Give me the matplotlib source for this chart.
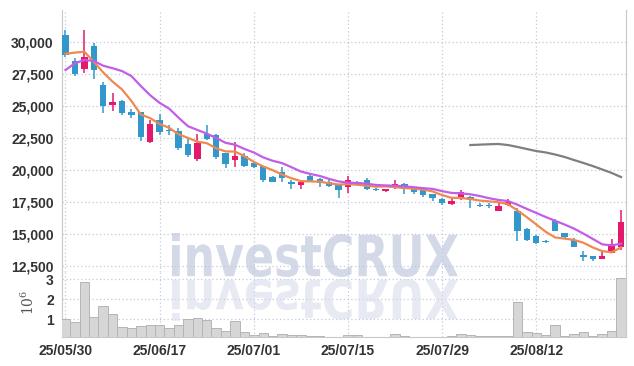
import matplotlib
matplotlib.use('Agg')
import numpy as np
import matplotlib.pyplot as plt
from matplotlib.font_manager import FontProperties
from matplotlib.textpath import TextPath
from matplotlib.patches import PathPatch
from matplotlib.transforms import Affine2D

# 일봉 데이터 (시가, 고가, 저가, 종가)
opens = [30550, 28500, 27900, 29700, 26650, 25100, 25400, 24550, 24550, 22150,
         23900, 23100, 23050, 22050, 20850, 22850, 22750, 21350, 20800, 21100,
         20550, 20300, 19450, 19850, 19100, 18850, 19550, 19300, 19050, 18850,
         18650, 19100, 19200, 18550, 18350, 18650, 18900, 18500, 18400, 18100,
         17750, 17350, 17800, 17900, 17250, 17300, 16800, 17250, 16800, 15400,
         14850, 14450, 16000, 15100, 14550, 13350, 13300, 13050, 13550, 13950]
highs = [30900, 28750, 30950, 29900, 26850, 26000, 25450, 24750, 24550, 23900,
         24350, 23550, 23250, 22550, 22850, 23500, 22800, 21350, 22150, 21350,
         20600, 20350, 19550, 20200, 19200, 19050, 19800, 19350, 19300, 18850,
         19500, 19150, 19350, 18600, 18500, 19250, 18950, 18550, 18400, 18150,
         17800, 17850, 18400, 17950, 17450, 17400, 17450, 17700, 17000, 15450,
         14900, 14500, 16150, 15100, 14700, 13650, 13300, 13750, 14600, 16900]
lows = [28800, 27350, 27550, 27100, 24450, 24600, 24300, 24050, 22300, 22100,
        22750, 22750, 21550, 21050, 20700, 22350, 20850, 20150, 20200, 20250,
        20150, 19050, 19050, 19100, 18550, 18550, 19050, 18650, 18650, 17850,
        18200, 18850, 18450, 18350, 18250, 18500, 18150, 18150, 17900, 17600,
        17300, 17300, 17650, 17000, 17100, 17050, 16800, 17150, 14450, 14450,
        14250, 14300, 15200, 14600, 14000, 12900, 12900, 13050, 13550, 13750]
closes = [28950, 27500, 28850, 27850, 25000, 25300, 24450, 24300, 22600, 23600,
          23000, 23050, 21750, 21150, 22100, 22400, 21050, 20500, 21100, 20350,
          20200, 19250, 19100, 19350, 18900, 19050, 19150, 18950, 18750, 18400,
          19200, 18900, 18550, 18400, 18500, 18900, 18550, 18300, 18050, 17800,
          17450, 17550, 18250, 17650, 17150, 17150, 17200, 17500, 15200, 14550,
          14300, 14350, 15250, 14750, 14000, 13200, 13050, 13300, 14250, 15900]

# 이동평균선
ma5 = [29080, 29170, 29240, 28460, 27625, 26902, 26297, 25391, 24338, 24052,
       23588, 23305, 22794, 22508, 22211, 22097, 21697, 21453, 21438, 21083,
       20635, 20275, 19988, 19639, 19353, 19130, 19110, 19084, 18968, 18863,
       18895, 18848, 18770, 18692, 18719, 18656, 18589, 18536, 18469, 18323,
       18038, 17828, 17813, 17734, 17609, 17547, 17484, 17334, 16839, 16313,
       15744, 15172, 14728, 14641, 14536, 14318, 13950, 13661, 13568, 13948]
ma10 = [27810, 28340, 28590, 28520, 28150, 27950, 27730, 27340, 26560, 25838,
        25245, 24801, 24092, 23423, 23131, 22842, 22501, 22124, 21973, 21647,
        21366, 20986, 20720, 20538, 20218, 19882, 19692, 19536, 19304, 19108,
        19012, 18979, 18927, 18830, 18791, 18775, 18718, 18653, 18581, 18521,
        18347, 18209, 18174, 18102, 17966, 17792, 17656, 17574, 17287, 16961,
        16645, 16328, 16031, 15740, 15425, 15031, 14614, 14195, 14104, 14242]
ma_long_start = 43
ma_long = [21950, 21980, 22010, 22030, 21950, 21800, 21640, 21480, 21370,
           21210, 21020, 20780, 20550, 20310, 20040, 19770, 19450]

# 거래량 (백만주)
volume = [1.0, 0.87, 2.85, 1.13, 1.67, 1.27, 0.6, 0.55, 0.65, 0.7,
          0.7, 0.55, 0.7, 1.02, 1.05, 0.97, 0.55, 0.42, 0.9, 0.37,
          0.2, 0.3, 0.15, 0.25, 0.2, 0.2, 0.15, 0.15, 0.12, 0.12,
          0.2, 0.18, 0.12, 0.1, 0.1, 0.27, 0.15, 0.12, 0.1, 0.12,
          0.12, 0.13, 0.27, 0.2, 0.15, 0.15, 0.13, 0.15, 1.85, 0.37,
          0.32, 0.2, 0.72, 0.15, 0.27, 0.37, 0.15, 0.27, 0.42, 3.05]

date_ticks = [0, 10, 20, 30, 40, 50]
date_labels = ['25/05/30', '25/06/17', '25/07/01', '25/07/15', '25/07/29', '25/08/12']
price_ticks = [12500, 15000, 17500, 20000, 22500, 25000, 27500, 30000]
vol_ticks = [1, 2, 3]

tick_kw = dict(fontfamily='Liberation Sans', fontweight='bold', fontsize=10, color='#333333')

plt.rcParams['mathtext.fontset'] = 'dejavuserif'

UP = '#e5196b'
DOWN = '#3298cb'
GRID = '#c3c8dc'
SPINE = '#c8c8c8'

W, H = 634, 366
fig = plt.figure(figsize=(W / 100, H / 100), dpi=100)
ax = fig.add_axes([62 / W, 1 - 272 / H, 564 / W, 262 / H])
axv = fig.add_axes([62 / W, 1 - 337 / H, 564 / W, 65 / H], sharex=ax)

x = np.arange(len(closes))
o = np.array(opens)
c = np.array(closes)
cols = [UP if cc > oo else DOWN for oo, cc in zip(o, c)]

# 캔들
ax.vlines(x, lows, highs, colors=cols, linewidth=1.1, zorder=3)
body_h = np.maximum(np.abs(c - o), 40)
ax.bar(x, body_h, bottom=np.minimum(o, c), width=0.68, color=cols, zorder=4)

# 이동평균선
ax.plot(x, ma5, color='#ef8950', linewidth=1.6, zorder=5)
ax.plot(x, ma10, color='#c35de8', linewidth=1.6, zorder=5)
ax.plot(np.arange(ma_long_start, ma_long_start + len(ma_long)), ma_long,
        color='#7f7f7f', linewidth=1.6, zorder=5)

ax.set_xlim(-0.37, 59.53)
ax.set_ylim(12030, 32500)
ax.set_yticks(price_ticks, [f'{p:,}' for p in price_ticks], **tick_kw)
ax.set_xticks(date_ticks)
ax.tick_params(length=0, labelbottom=False, pad=6)
ax.grid(True, color=GRID, linestyle=(0, (1, 2)), linewidth=0.9)
ax.set_axisbelow(True)
ax.spines['top'].set_visible(False)
for s in ['left', 'right', 'bottom']:
    ax.spines[s].set_color(SPINE)

# 거래량
axv.bar(x, volume, width=1.0, color='#d6d6d6', edgecolor='#b5b5b5', linewidth=0.7, zorder=3)
axv.set_ylim(0.1, 3.37)
axv.set_yticks(vol_ticks, [str(v) for v in vol_ticks], **tick_kw)
axv.set_xticks(date_ticks, date_labels, **tick_kw)
axv.tick_params(length=0, pad=6)
axv.tick_params(axis='x', pad=5)
axv.grid(True, color=GRID, linestyle=(0, (1, 2)), linewidth=0.9)
axv.set_axisbelow(True)
axv.spines['top'].set_visible(False)
for s in ['left', 'right', 'bottom']:
    axv.spines[s].set_color(SPINE)
axv.set_ylabel(r'$10^6$', fontsize=10, color='#555555')
axv.yaxis.set_label_coords(-0.045, 0.54)

# 워터마크
fp = FontProperties(family='DejaVu Sans', weight='bold')
tp = TextPath((0, 0), 'investCRUX', size=50, prop=fp)
bb = tp.get_extents()
sx = 286 / bb.width
sy = 44 / bb.height
tr = Affine2D().translate(-bb.x0, -bb.y0).scale(sx, sy).translate(172, H - 277)
fig.add_artist(PathPatch(tp, transform=tr, facecolor='#c2c9df', edgecolor='none', alpha=0.7, zorder=10))
tr2 = Affine2D().translate(-bb.x0, -bb.y0).scale(sx, -sy * 0.95).translate(172, H - 279)
fig.add_artist(PathPatch(tp, transform=tr2, facecolor='#d8dcea', edgecolor='none', alpha=0.6, zorder=10))

fig.savefig('out.png', dpi=100)
